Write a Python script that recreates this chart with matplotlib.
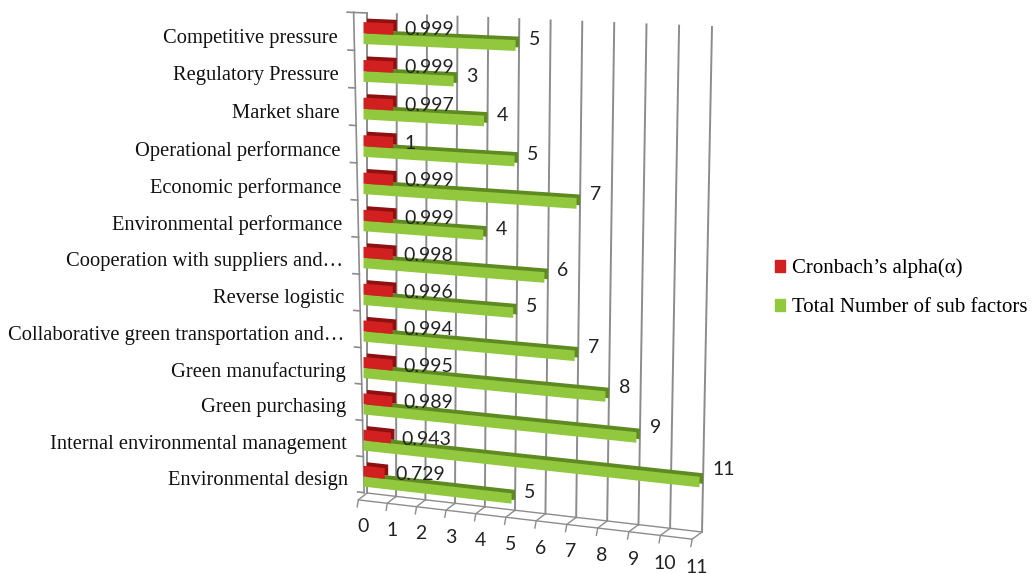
import numpy as np
import matplotlib
matplotlib.use("Agg")
import matplotlib.pyplot as plt
import matplotlib.transforms as mtransforms
from matplotlib.patches import Patch

# data (top to bottom as shown)
categories = ["Competitive pressure", "Regulatory Pressure", "Market share",
              "Operational performance", "Economic performance",
              "Environmental performance", "Cooperation with suppliers and…",
              "Reverse logistic", "Collaborative green transportation and…",
              "Green manufacturing", "Green purchasing",
              "Internal environmental management", "Environmental design"]
alpha = [0.999, 0.999, 0.997, 1, 0.999, 0.999, 0.998, 0.996, 0.994, 0.995,
         0.989, 0.943, 0.729]
sub_factors = [5, 3, 4, 5, 7, 4, 6, 5, 7, 8, 9, 11, 5]
x_ticks = list(range(12))
series_names = ["Cronbach’s alpha(α)", "Total Number of sub factors"]

RED, RED_DARK = "#d21f1f", "#8e1010"
GREEN, GREEN_DARK = "#92c83e", "#5f8a22"
GRID = "#8c8c8c"


def homography(src, dst):
    A, b = [], []
    for (x, y), (X, Y) in zip(src, dst):
        A.append([x, y, 1, 0, 0, 0, -X * x, -X * y]); b.append(X)
        A.append([0, 0, 0, x, y, 1, -Y * x, -Y * y]); b.append(Y)
    h = np.linalg.solve(np.array(A, float), np.array(b, float))
    return np.append(h, 1).reshape(3, 3)


class Wall(mtransforms.Transform):
    # perspective mapping of (value, row) onto the back wall, in pixels
    input_dims = output_dims = 2

    def __init__(self, H):
        super().__init__()
        self.H = H

    def transform_non_affine(self, values):
        v = np.atleast_2d(np.asarray(values, float))
        p = np.column_stack([v, np.ones(len(v))]) @ self.H.T
        return p[:, :2] / p[:, 2:]


n = len(categories)
rows = np.arange(n)[::-1]

fig = plt.figure(figsize=(10.35, 5.74), dpi=100)
ax = fig.add_axes([0, 0, 1, 1])
ax.set_autoscale_on(False)
ax.set_xlim(0, 1035)
ax.set_ylim(574, 0)
ax.axis("off")

H = homography([(0, 0), (11, 0), (0, n), (11, n)],
               [(367, 493), (702, 532), (367, 13), (712, 27)])
T = Wall(H) + ax.transData
T_front = T + mtransforms.ScaledTranslation(-0.035, -0.015, fig.dpi_scale_trans)
T_back = T + mtransforms.ScaledTranslation(0.0, 0.02, fig.dpi_scale_trans)

# back wall gridlines
for u in x_ticks:
    ax.plot([u, u], [0, n], color=GRID, lw=1.4, transform=T, zorder=1)

# floor
ax.plot([0, 11], [0, 0], color=GRID, lw=1.0, transform=T, zorder=1)
ax.plot([-0.3, 10.7], [-0.22, -0.22], color=GRID, lw=1.0, transform=T, zorder=1)
for u in x_ticks:
    ax.plot([u, u - 0.3, u - 0.34], [0, -0.22, -0.42], color=GRID, lw=1.0,
            transform=T, zorder=1)
    ax.text(u - 0.15, -0.95, str(u), transform=T, ha="center", va="center",
            fontsize=14, family="Lato", color="#222222")

# category axis (front left edge)
ax_u = lambda v: -0.1 - 0.35 * v / n
ax.plot([ax_u(0), ax_u(n)], [0, n], color=GRID, lw=1.2, transform=T, zorder=1)
ax.plot([ax_u(n), 0], [n, n], color=GRID, lw=1.2, transform=T, zorder=1)
for k in range(n + 1):
    ax.plot([ax_u(k), ax_u(k) - 0.22], [k, k], color=GRID, lw=1.2,
            transform=T, zorder=1)
for name, r in zip(categories, rows):
    ax.text(ax_u(r + 0.3) - 0.55, r + 0.3, name, transform=T, ha="right",
            va="center", fontsize=14.8, family="Liberation Serif", color="#111111")

# bars: darker extrusion behind, front face on top
red_lo, red_h = 0.5, 0.3
grn_lo, grn_h = 0.22, 0.28
ax.barh(rows + grn_lo, sub_factors, height=grn_h, align="edge",
        color=GREEN_DARK, transform=T_back, zorder=2)
ax.barh(rows + grn_lo, sub_factors, height=grn_h, align="edge",
        color=GREEN, transform=T_front, zorder=3)
ax.barh(rows + red_lo, alpha, height=red_h, align="edge",
        color=RED_DARK, transform=T_back, zorder=4)
ax.barh(rows + red_lo, alpha, height=red_h, align="edge",
        color=RED, transform=T_front, zorder=5)

# data labels
for a, s, r in zip(alpha, sub_factors, rows):
    ax.text(a + 0.25, r + red_lo + 0.1, f"{a:g}", transform=T, ha="left",
            va="center", fontsize=14, family="Lato", color="#222222", zorder=6)
    ax.text(s + 0.3, r + 0.35 + 0.03 * s, str(s), transform=T, ha="left",
            va="center", fontsize=14, family="Lato", color="#222222", zorder=6)

handles = [Patch(color=RED), Patch(color=GREEN)]
ax.legend(handles, series_names, loc="center left",
          bbox_to_anchor=(756 / 1035, 1 - 288 / 574), frameon=False,
          prop={"family": "Liberation Serif", "size": 15},
          handlelength=0.5, handleheight=0.5, handletextpad=0.35,
          labelspacing=0.95)

fig.savefig("out.png", dpi=100)
